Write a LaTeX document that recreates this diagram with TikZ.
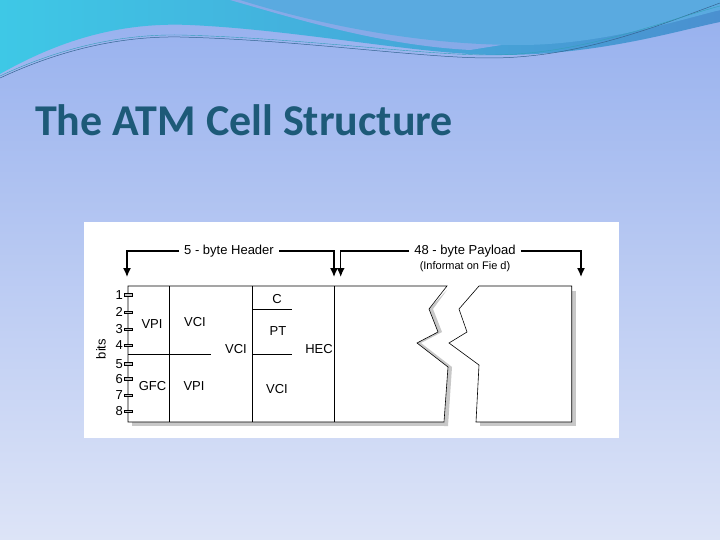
\documentclass[tikz,border=0pt]{standalone}
\usepackage{fontspec}
\setmainfont{Liberation Sans}
\newfontfamily\titlefont{Carlito}
\definecolor{bgtop}{HTML}{96B0EE}
\definecolor{bgbot}{HTML}{DDE4F7}
\definecolor{wavedark}{HTML}{4A90D0}
\definecolor{wavecyan}{HTML}{3EC8E6}
\definecolor{waveright}{HTML}{5AAAE0}
\definecolor{titlecol}{HTML}{1D5A78}
\definecolor{shadowc}{HTML}{C8C8C8}
\tikzset{
  lbl/.style={font=\fontsize{13}{15}\selectfont, inner sep=0pt},
  cellline/.style={line width=0.6pt, black},
  tick/.style={draw=black, fill=shadowc, line width=0.4pt, minimum width=8pt, minimum height=2.5pt, inner sep=0pt},
  arr/.style={line width=1.4pt, -{Latex[length=9pt,width=8pt]}},
}
\usetikzlibrary{arrows.meta}
\begin{document}
\begin{tikzpicture}[x=1pt,y=-1pt]
\useasboundingbox (0,0) rectangle (720,540);
\shade[top color=bgtop, bottom color=bgbot] (0,0) rectangle (720,540);
% waves
\shade[left color=wavecyan, right color=wavedark] (0,0) -- (0,74) .. controls (60,40) and (120,22) .. (190,25) .. controls (300,30) and (420,55) .. (500,55) .. controls (600,55) and (680,30) .. (720,22) -- (720,0) -- cycle;
\fill[bgtop!80!wavedark] (230,0) .. controls (300,20) and (380,45) .. (470,50) -- (720,10) -- (720,0) -- cycle;
\fill[waveright] (240,0) .. controls (320,25) and (420,45) .. (520,45) .. controls (600,45) and (680,20) .. (720,10) -- (720,0) -- cycle;
\draw[wavedark!70!black, line width=0.5pt] (0,78) .. controls (60,50) and (120,36) .. (180,37) .. controls (300,40) and (420,58) .. (490,58) .. controls (580,58) and (660,25) .. (720,3);
\draw[wavecyan!80!black, line width=0.4pt] (0,76) .. controls (60,48) and (120,34) .. (180,35) .. controls (300,38) and (420,55) .. (490,55) .. controls (580,55) and (660,22) .. (720,6);
% title
\node[anchor=west, inner sep=0pt, text=titlecol, font=\titlefont\bfseries\fontsize{44}{48}\selectfont] (title) at (35,120) {The ATM Cell Structure};
% figure panel
\fill[white] (84,222) rectangle (619,438);
% shadows
\fill[shadowc] (132,422) rectangle (448,426);
\fill[shadowc] (447,290) -- (433,309) -- (442,332) -- (421,343) -- (452,367) -- (448,426) -- (444,426) -- (448,367) -- (417,343) -- (438,332) -- (429,309) -- cycle;
\fill[shadowc] (480,422) rectangle (576,426);
\fill[shadowc] (572,291) rectangle (576,426);
% cell outline
\draw[cellline, fill=white] (447,286) -- (128,286) -- (128,422) -- (444,422) -- (448,367) -- (417,343) -- (438,332) -- (429,309) -- cycle;
\draw[cellline, fill=white] (479,286) -- (571.7,286) -- (571.7,422) -- (476,422) -- (479,365) -- (449,343) -- (467,332) -- (459,309) -- cycle;
\draw[cellline] (169.7,286) -- (169.7,422);
\draw[cellline] (252.3,286) -- (252.3,422);
\draw[cellline] (334,286) -- (334,422);
\draw[cellline] (128,354.3) -- (210.7,354.3);
\draw[cellline] (252.3,354.3) -- (292.3,354.3);
\draw[cellline] (252.3,309.3) -- (292.3,309.3);
% ticks and bit numbers
\foreach \i/\y in {1/294.7,2/312,3/329.3,4/345.3,5/363.7,6/378.7,7/395.3,8/411.3}{
  \node[tick] (t\i) at (128.5,\y) {};
  \node[lbl, anchor=east] (n\i) at (123,\y) {\i};
}
\node[lbl, rotate=90] (bits) at (101,349) {bits};
% field labels
\node[lbl] (vpi1) at (152,323.7) {VPI};
\node[lbl] (vci1) at (195,322.5) {VCI};
\node[lbl] (vci2) at (236,349) {VCI};
\node[lbl] (c) at (277,299) {C};
\node[lbl] (pt) at (278,331) {PT};
\node[lbl] (hec) at (319,349) {HEC};
\node[lbl] (gfc) at (152.5,386.5) {GFC};
\node[lbl] (vpi2) at (194,386) {VPI};
\node[lbl] (vci3) at (277,389) {VCI};
% header arrows
\node[lbl] (hdr) at (229,251) {5 - byte Header};
\coordinate (h1b) at (127,277); \coordinate (h2b) at (334,277);
\draw[arr] (hdr.west) ++(-5,0) -| (h1b);
\draw[arr] (hdr.east) ++(5,0) -| (h2b);
\node[lbl] (pay) at (465,251) {48 - byte Payload};
\node[lbl, font=\fontsize{11}{12}\selectfont] (info) at (465,267) {(Informat on Fie d)};
\coordinate (p1b) at (340.7,277); \coordinate (p2b) at (581,277);
\draw[arr] (pay.west) ++(-5,0) -| (p1b);
\draw[arr] (pay.east) ++(5,0) -| (p2b);
\end{tikzpicture}
\end{document}
